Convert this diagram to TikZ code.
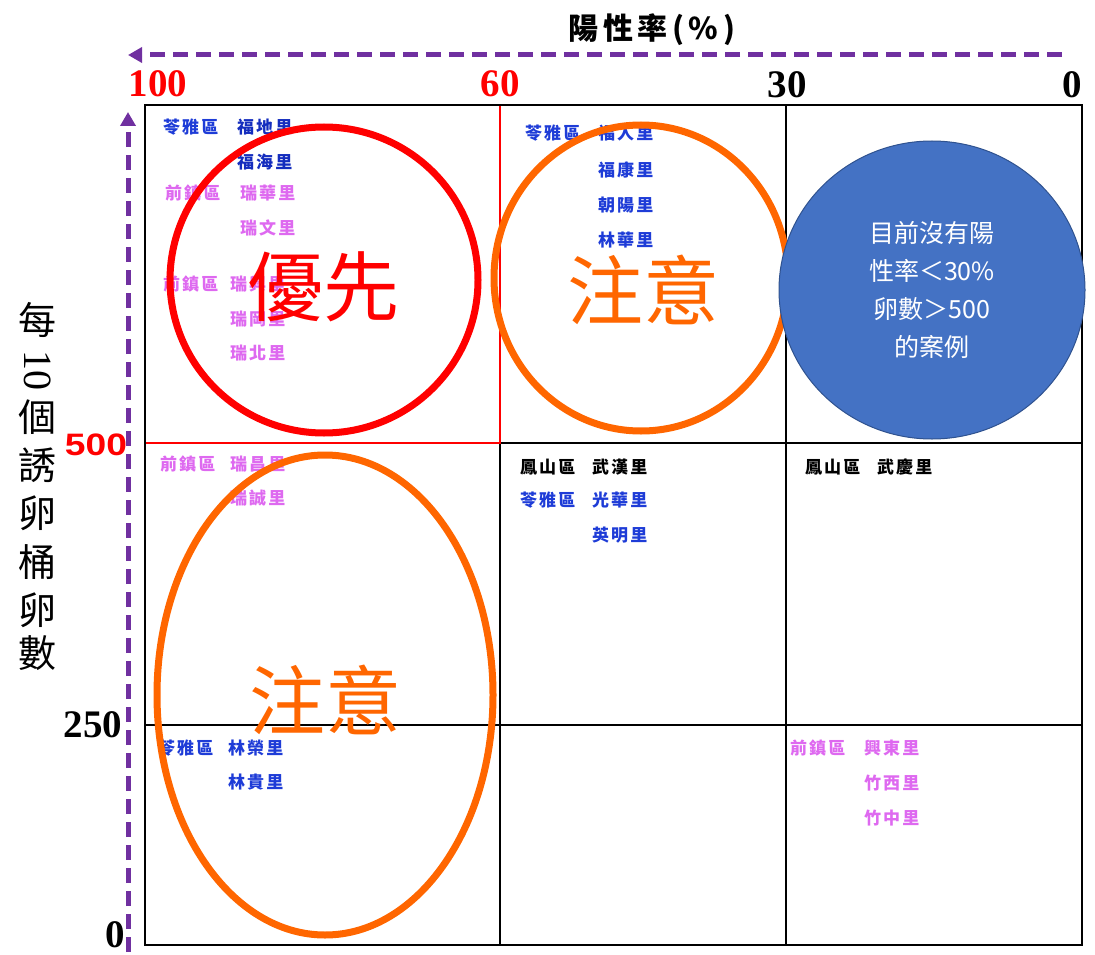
\documentclass[tikz,border=0pt]{standalone}
\usepackage{fontspec}
\setmainfont{Liberation Serif}
\newfontfamily\cjk{Noto Sans CJK TC}
\newfontfamily\titlef{Noto Sans CJK TC}[LetterSpace=15]
\newfontfamily\distf{Noto Sans CJK TC}[LetterSpace=12]
\newfontfamily\arialf{Liberation Sans}
\usetikzlibrary{arrows.meta}
\definecolor{dblue}{RGB}{30,60,215}
\definecolor{dblue2}{RGB}{20,45,190}
\definecolor{dpink}{RGB}{222,105,240}
\definecolor{ppl}{RGB}{112,48,160}
\definecolor{org}{RGB}{255,102,0}
\definecolor{cblue}{RGB}{68,114,196}
\definecolor{cblueb}{RGB}{47,82,143}
\tikzset{
  dist/.style={anchor=west,inner sep=0pt,font=\distf\bfseries\fontsize{17}{17}\selectfont},
  bl/.style={dist,text=dblue},
  bld/.style={dist,text=dblue2},
  pk/.style={dist,text=dpink},
  bk/.style={dist,text=black},
  gridl/.style={line width=2pt,black},
  redl/.style={line width=1.5pt,red},
  axarrow/.style={line width=5pt,ppl,dash pattern=on 15pt off 8pt,-{Triangle[length=14pt,width=15pt]}},
  ring/.style={line width=7pt},
  bignum/.style={inner sep=0pt,font=\bfseries\fontsize{39}{39}\selectfont},
  big/.style={inner sep=0pt,font=\cjk\fontsize{76}{76}\selectfont},
  ylab/.style={inner sep=0pt,font=\cjk\fontsize{38}{38}\selectfont}
}
\begin{document}
\begin{tikzpicture}[x=1pt,y=-1pt]
\useasboundingbox (0,0) rectangle (1095,955);
% grid
\coordinate (g00) at (145,105);
\coordinate (g11) at (1082,945);
\draw[gridl] (g00) rectangle (g11);
\coordinate (v1b) at (500,443); \coordinate (v1e) at (500,945);
\coordinate (v2t) at (786,105); \coordinate (v2e) at (786,945);
\coordinate (h1a) at (500,443); \coordinate (h1e) at (1082,443);
\coordinate (h2a) at (145,725); \coordinate (h2e) at (1082,725);
\draw[gridl] (v1b) -- (v1e);
\draw[gridl] (v2t) -- (v2e);
\draw[gridl] (h1a) -- (h1e);
\draw[gridl] (h2a) -- (h2e);
\coordinate (r1t) at (500,106); \coordinate (r1b) at (500,443);
\coordinate (r2l) at (146,443);
\draw[redl] (r1t) -- (r1b) -- (r2l);
% axes
\coordinate (axs) at (1062,55); \coordinate (axe) at (128,55);
\draw[axarrow] (axs) -- (axe);
\coordinate (ays) at (128,952); \coordinate (aye) at (128,112);
\draw[axarrow] (ays) -- (aye);
\node[inner sep=0pt,font=\titlef\bfseries\fontsize{30}{30}\selectfont] (title) at (652,30) {陽性率(\%)};
\node[bignum,text=red] (n100) at (158,84) {100};
\node[bignum,text=red] (n60) at (500,84) {60};
\node[bignum] (n30) at (787,85) {30};
\node[bignum] (n0) at (1072,85) {0};
\node[inner sep=0pt,text=red,xscale=1.2,font=\arialf\bfseries\fontsize{31}{31}\selectfont] (n500) at (96,445) {500};
\node[bignum] (n250) at (93,725) {250};
\node[bignum] (ny0) at (115,935) {0};
% y label
\node[ylab] (y1) at (38,320) {每};
\node[inner sep=0pt,font=\fontsize{40}{40}\selectfont] (y2) at (38,370) {\rotatebox{-90}{10}};
\node[ylab] (y3) at (38,417) {個};
\node[ylab] (y4) at (38,465) {誘};
\node[ylab] (y5) at (38,513) {卵};
\node[ylab] (y6) at (38,562) {桶};
\node[ylab] (y7) at (38,610) {卵};
\node[ylab] (y8) at (38,653) {數};
% district labels
\node[bl] (a1) at (163,127) {苓雅區};
\node[bld] (a2) at (237,127) {福地里};
\node[bld] (a3) at (237,162) {福海里};
\node[pk] (a4) at (165,193) {前鎮區};
\node[pk] (a5) at (240,193) {瑞華里};
\node[pk] (a6) at (240,228) {瑞文里};
\node[pk] (a7) at (163,284) {前鎮區};
\node[pk] (a8) at (230,284) {瑞興里};
\node[pk] (a9) at (230,319) {瑞岡里};
\node[pk] (a10) at (230,353) {瑞北里};
\node[bl] (b1) at (525,133) {苓雅區};
\node[bl] (b2) at (598,133) {福人里};
\node[bl] (b3) at (598,170) {福康里};
\node[bl] (b4) at (598,205) {朝陽里};
\node[bl] (b5) at (598,240) {林華里};
\node[bk] (c1) at (520,467) {鳳山區};
\node[bk] (c2) at (592,467) {武漢里};
\node[bl] (c3) at (520,500) {苓雅區};
\node[bl] (c4) at (592,500) {光華里};
\node[bl] (c5) at (592,535) {英明里};
\node[bk] (e1) at (805,467) {鳳山區};
\node[bk] (e2) at (877,467) {武慶里};
\node[pk] (f1) at (160,464) {前鎮區};
\node[pk] (f2) at (230,464) {瑞昌里};
\node[pk] (f3) at (230,498) {瑞誠里};
\node[bl] (k1) at (158,748) {苓雅區};
\node[bl] (k2) at (228,748) {林榮里};
\node[bl] (k3) at (228,782) {林貴里};
\node[pk] (m1) at (790,748) {前鎮區};
\node[pk] (m2) at (864,748) {興東里};
\node[pk] (m3) at (864,783) {竹西里};
\node[pk] (m4) at (864,818) {竹中里};
% rings
\coordinate (cr) at (324,280);
\draw[ring,red] (cr) ellipse [x radius=154, y radius=153];
\coordinate (co1) at (641,278);
\draw[ring,org] (co1) ellipse [x radius=147, y radius=153];
\coordinate (co2) at (325,695);
\draw[ring,org] (co2) ellipse [x radius=168, y radius=240];
\coordinate (cb) at (932,290);
\draw[cblueb,fill=cblue,line width=1pt] (cb) ellipse [x radius=153, y radius=149];
\node[align=center,text=white,inner sep=0pt,font=\cjk\fontsize{25}{38}\selectfont] (bt) at (932,290) {目前沒有陽\\性率＜30\%\\卵數＞500\\的案例};
\node[big,text=red] (t1) at (323,287) {優先};
\node[big,text=org] (t2) at (643,290) {注意};
\node[big,text=org] (t3) at (325,700) {注意};
\end{tikzpicture}
\end{document}
